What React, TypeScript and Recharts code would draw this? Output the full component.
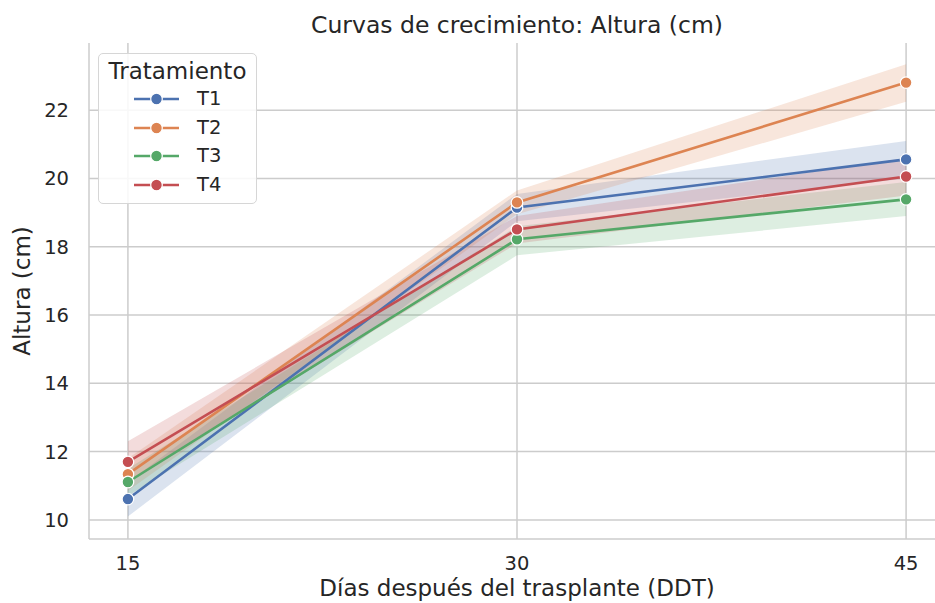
import React from 'react';
import { ComposedChart, Line, Area, XAxis, YAxis, CartesianGrid, Label } from 'recharts';

const days = [15, 30, 45];
const seriesNames = ['T1', 'T2', 'T3', 'T4'];
const colors = ['#4c72b0', '#dd8452', '#55a868', '#c44e52'];

const t1Mean = [10.61, 19.15, 20.56];
const t1Low = [10.1, 18.75, 20.0];
const t1High = [11.1, 19.55, 21.1];

const t2Mean = [11.34, 19.3, 22.81];
const t2Low = [10.85, 18.95, 22.25];
const t2High = [11.8, 19.65, 23.35];

const t3Mean = [11.11, 18.22, 19.39];
const t3Low = [10.7, 17.75, 18.9];
const t3High = [11.5, 18.6, 19.9];

const t4Mean = [11.7, 18.51, 20.06];
const t4Low = [11.15, 18.1, 19.5];
const t4High = [12.3, 18.9, 20.6];

const yTicks = [10, 12, 14, 16, 18, 20, 22];

const means = [t1Mean, t2Mean, t3Mean, t4Mean];
const lows = [t1Low, t2Low, t3Low, t4Low];
const highs = [t1High, t2High, t3High, t4High];

const data = days.map((d, i) => {
  const row: any = { day: d };
  seriesNames.forEach((s, k) => {
    row[s] = means[k][i];
    row[s + '_ci'] = [lows[k][i], highs[k][i]];
  });
  return row;
});

const FONT = '"DejaVu Sans", sans-serif';
const TEXT = '#262626';
const GRID = '#cccccc';

const LegendBox = () => (
  <div
    style={{
      position: 'absolute',
      left: 98,
      top: 53,
      width: 159,
      height: 151,
      boxSizing: 'border-box',
      border: '1.5px solid #d6d6d6',
      borderRadius: 5,
      background: 'rgba(255,255,255,0.85)',
      fontFamily: FONT,
      color: TEXT,
      zIndex: 3,
    }}
  >
    <div style={{ position: 'absolute', left: 0, width: 157, top: 3, textAlign: 'center', fontSize: 23, lineHeight: '28px' }}>
      Tratamiento
    </div>
    {seriesNames.map((s, k) => (
      <div key={s} style={{ position: 'absolute', left: 34, top: 33 + k * 28.7, height: 24, display: 'flex', alignItems: 'center' }}>
        <svg width={48} height={14}>
          <line x1={1} y1={7} x2={46} y2={7} stroke={colors[k]} strokeWidth={2.6} />
          <circle cx={23.5} cy={7} r={5.8} fill={colors[k]} stroke="#fff" strokeWidth={1.2} />
        </svg>
        <span style={{ marginLeft: 16, fontSize: 19.5, lineHeight: '24px' }}>{s}</span>
      </div>
    ))}
  </div>
);

export default function App() {
  return (
    <div style={{ position: 'absolute', left: 0, top: 0, width: 935, height: 603, background: '#fff', fontFamily: FONT }}>
      <div
        style={{
          position: 'absolute',
          left: 0,
          width: 1034,
          top: 11,
          textAlign: 'center',
          fontSize: 23.5,
          lineHeight: '28px',
          color: TEXT,
          zIndex: 2,
        }}
      >
        Curvas de crecimiento: Altura (cm)
      </div>
      <LegendBox />
      <ComposedChart
        width={935}
        height={603}
        data={data}
        margin={{ top: 43, right: -10, bottom: 0, left: 0 }}
        style={{ fontFamily: FONT }}
      >
        <CartesianGrid stroke={GRID} strokeWidth={1.5} horizontalValues={yTicks} verticalValues={days} />
        <XAxis
          dataKey="day"
          type="number"
          domain={[13.5, 46.5]}
          ticks={days}
          tickLine={false}
          tickSize={0}
          tickMargin={17}
          height={64}
          axisLine={{ stroke: GRID, strokeWidth: 1.5 }}
          tick={{ fill: TEXT, fontSize: 19.5, fontFamily: FONT }}
        >
          <Label value="Días después del trasplante (DDT)" position="insideBottom" offset={7} fill={TEXT} fontSize={23} fontFamily={FONT} />
        </XAxis>
        <XAxis
          xAxisId="top"
          orientation="top"
          dataKey="day"
          type="number"
          domain={[13.5, 46.5]}
          ticks={days}
          tick={false}
          tickLine={false}
          height={0}
          axisLine={{ stroke: GRID, strokeWidth: 1.5 }}
        />
        <YAxis
          type="number"
          domain={[9.44, 23.97]}
          ticks={yTicks}
          tickLine={false}
          tickSize={0}
          tickMargin={20}
          width={89}
          axisLine={{ stroke: GRID, strokeWidth: 1.5 }}
          tick={{ fill: TEXT, fontSize: 19.5, fontFamily: FONT }}
        >
          <Label value="Altura (cm)" angle={-90} position="insideLeft" offset={22} fill={TEXT} fontSize={23} fontFamily={FONT} style={{ textAnchor: 'middle' }} />
        </YAxis>
        {seriesNames.map((s, k) => (
          <Area
            key={s + '_band'}
            dataKey={s + '_ci'}
            type="linear"
            stroke="none"
            fill={colors[k]}
            fillOpacity={0.2}
            legendType="none"
            isAnimationActive={false}
            activeDot={false}
          />
        ))}
        {seriesNames.map((s, k) => (
          <Line
            key={s}
            dataKey={s}
            type="linear"
            stroke={colors[k]}
            strokeWidth={2.6}
            dot={{ r: 5.8, fill: colors[k], stroke: '#fff', strokeWidth: 1.2 }}
            activeDot={false}
            isAnimationActive={false}
          />
        ))}
      </ComposedChart>
    </div>
  );
}
